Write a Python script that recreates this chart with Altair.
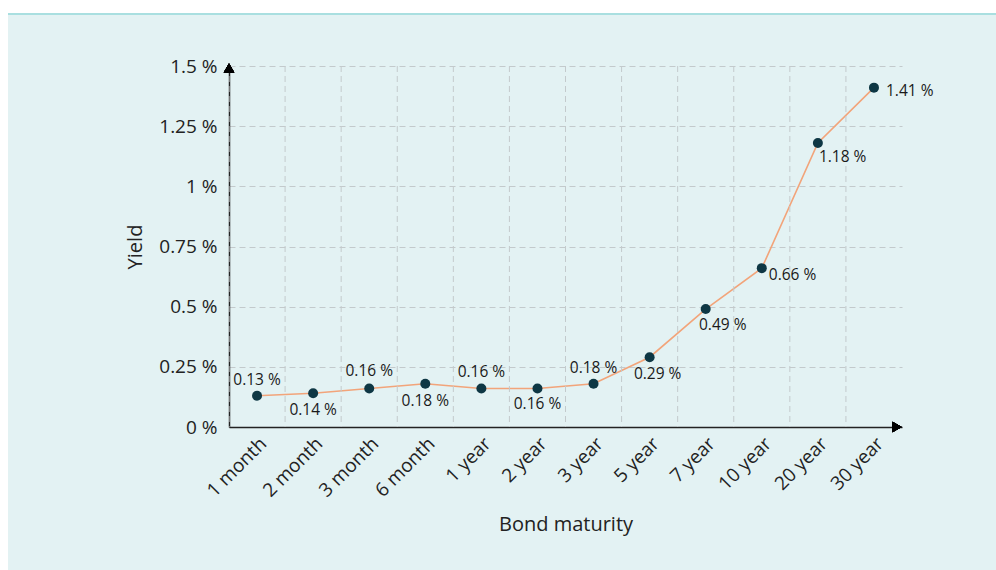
import altair as alt
import pandas as pd

# ---- data ----
maturities = ["1 month", "2 month", "3 month", "6 month", "1 year", "2 year",
              "3 year", "5 year", "7 year", "10 year", "20 year", "30 year"]
yields = [0.13, 0.14, 0.16, 0.18, 0.16, 0.16, 0.18, 0.29, 0.49, 0.66, 1.18, 1.41]
y_ticks = [0, 0.25, 0.5, 0.75, 1, 1.25, 1.5]

df = pd.DataFrame({"maturity": maturities, "yield": yields})

# ---- layout / style ----
FONT = "Open Sans"
W, H = 673, 361
PAD_L, PAD_T, PAD_R, PAD_B = 229, 66, 94, 143
BG = "#e3f2f3"
LINE_C = "#f2a47a"
PT_C = "#0e3744"
GRID_C = "#c3cacc"

# label placement per category: (align, dx, dy)
placement = {
    "1 month": ("center", 0, -16), "3 month": ("center", 0, -17),
    "1 year": ("center", 0, -16), "3 year": ("center", 0, -16),
    "2 month": ("center", 0, 17), "6 month": ("center", 0, 17),
    "2 year": ("center", 0, 16),
    "5 year": ("center", 8, 17), "7 year": ("center", 17, 16),
    "10 year": ("left", 7, 7), "20 year": ("left", 1, 14),
    "30 year": ("left", 12, 3),
}

x_enc = alt.X("maturity:N", sort=maturities,
              scale=alt.Scale(paddingInner=0, paddingOuter=0),
              axis=alt.Axis(title="Bond maturity", labelAngle=-45, labelFontSize=19,
                            labelFont=FONT, labelColor="#222", labelPadding=7,
                            ticks=False, grid=False, domainColor="#222", domainWidth=1.5,
                            titleFont=FONT, titleFontSize=20, titleFontWeight="normal",
                            titleColor="#222", titlePadding=14))
y_enc = alt.Y("yield:Q", scale=alt.Scale(domain=[0, 1.5], nice=False),
              axis=alt.Axis(title="Yield", values=y_ticks, labelExpr="datum.value + ' %'",
                            labelFontSize=19, labelFont=FONT, labelColor="#222",
                            labelPadding=12, ticks=False, grid=True, gridColor=GRID_C,
                            gridDash=[6, 4], gridWidth=1, domainColor="#222", domainWidth=1.5,
                            titleFont=FONT, titleFontSize=20, titleFontWeight="normal",
                            titleColor="#222", titlePadding=13))

base = alt.Chart(df)

# white page margins around the tinted panel, and the panel's top border
margin_left = base.mark_rect(color="white").encode(
    x=alt.value(-PAD_L), x2=alt.value(8 - PAD_L),
    y=alt.value(-PAD_T), y2=alt.value(570 - PAD_T))
margin_top = base.mark_rect(color="white").encode(
    x=alt.value(-PAD_L), x2=alt.value(996 - PAD_L),
    y=alt.value(-PAD_T), y2=alt.value(13 - PAD_T))
panel_top = base.mark_rule(color="#a9dfe0", strokeWidth=2).encode(
    x=alt.value(8 - PAD_L), x2=alt.value(996 - PAD_L), y=alt.value(14 - PAD_T))

vgrid = base.mark_rule(color=GRID_C, strokeDash=[6, 4], strokeWidth=1).encode(
    x=alt.X("maturity:N", sort=maturities, bandPosition=0))

line = base.mark_line(color=LINE_C, strokeWidth=1.6).encode(x=x_enc, y=y_enc)
points = base.mark_circle(color=PT_C, size=100, opacity=1).encode(
    x=alt.X("maturity:N", sort=maturities), y="yield:Q")

labels = []
groups = {}
for cat, p in placement.items():
    groups.setdefault(p, []).append(cat)
for (align, dx, dy), cats in groups.items():
    labels.append(
        base.transform_filter(alt.FieldOneOfPredicate(field="maturity", oneOf=cats))
        .transform_calculate(txt="format(datum.yield, '.2f') + ' %'")
        .mark_text(font=FONT, fontSize=15.5, color="#1a1a1a", align=align,
                   baseline="middle", dx=dx, dy=dy)
        .encode(x=alt.X("maturity:N", sort=maturities), y="yield:Q", text="txt:N"))

arrow_y = base.mark_point(shape="triangle-up", filled=True, color="#000", size=110,
                          opacity=1).encode(x=alt.value(0), y=alt.value(2))
arrow_x = base.mark_point(shape="triangle-right", filled=True, color="#000", size=110,
                          opacity=1).encode(x=alt.value(W - 5), y=alt.value(H))

chart = alt.layer(line, margin_left, margin_top, panel_top, vgrid, points, *labels,
                  arrow_y, arrow_x).properties(
    width=W, height=H,
    autosize=alt.AutoSizeParams(type="none"),
    padding={"left": PAD_L, "top": PAD_T, "right": PAD_R, "bottom": PAD_B},
    background=BG,
).configure_view(stroke=None)

chart.save("out.html", embed_options={"renderer": "svg", "actions": False})
